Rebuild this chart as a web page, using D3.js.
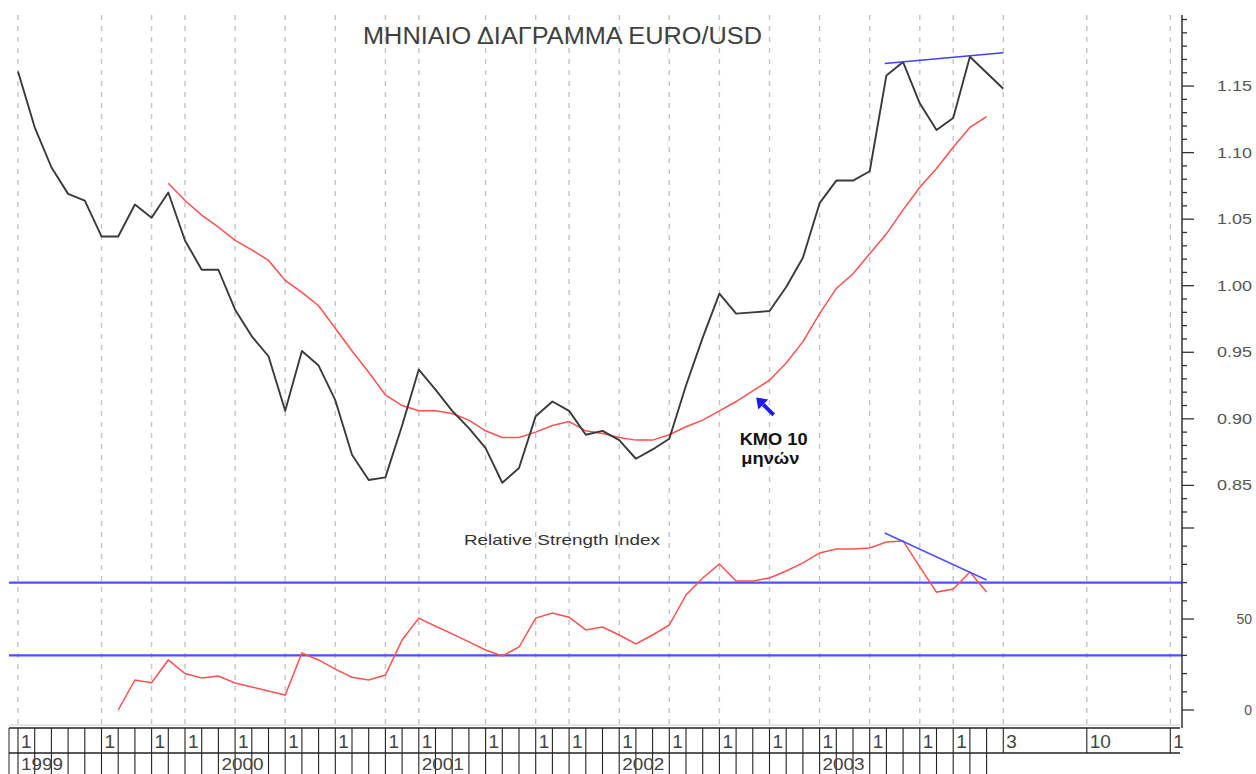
<!DOCTYPE html>
<html><head><meta charset="utf-8">
<script src="https://cdn.jsdelivr.net/npm/d3@7"></script>
<style>body{margin:0;background:#fff}svg{display:block;font-family:"Liberation Sans",Arial,sans-serif}</style>
</head><body><svg id="c" width="1256" height="774"></svg>
<script>
// ---- data (month index 0 = Jan 1999) ----
const priceStart = 0;
const price = [1.161,1.119,1.089,1.069,1.064,1.037,1.037,1.061,1.051,1.070,
  1.034,1.012,1.012,0.982,0.962,0.947,0.906,0.951,0.940,0.914,
  0.873,0.854,0.856,0.895,0.937,0.922,0.906,0.893,0.878,0.852,
  0.863,0.902,0.913,0.906,0.888,0.891,0.884,0.870,0.877,0.885,
  0.925,0.961,0.994,0.979,0.980,0.981,0.999,1.021,1.062,1.079,
  1.079,1.086,1.158,1.168,1.137,1.117,1.126,1.172,1.160,1.148];
const maStart = 9;
const ma10 = [1.077,1.064,1.053,1.044,1.034,1.027,1.019,1.004,0.995,0.985,
  0.968,0.951,0.935,0.918,0.910,0.906,0.906,0.904,0.899,0.891,
  0.886,0.886,0.890,0.895,0.898,0.891,0.889,0.886,0.884,0.884,
  0.888,0.894,0.899,0.906,0.913,0.921,0.929,0.942,0.958,0.979,
  0.998,1.009,1.024,1.039,1.057,1.074,1.088,1.104,1.119,1.127];
const rsiStart = 6;
const rsi = [0,16.5,15,27.5,20,17.6,18.7,14.8,12.6,10.4,
  8.2,31.3,27.5,22.5,18,16.5,19.2,38.5,50.5,46,
  41.8,37.4,33,29.7,34.6,50.5,53.3,51,44,45.6,
  41.2,36.3,41.2,46.7,63.2,72.5,80.2,70.9,70.9,72.5,
  76.4,80.8,86.3,88.5,88.5,89,92.3,92.9,78.6,64.8,
  66.5,75.8,64.8];
const gridMonths = [0,5,8,10,13,16,19,22,24,28,31,33,36,39,42,45,48,51,54,56,59,64,69];
const gridLabels = ["1","1","1","1","1","1","1","1","1","1","1","1","1","1","1","1","1","1","1","1","3","10","1"];
const yearMonths = [0,12,24,36,48];
const yearLabels = ["1999","2000","2001","2002","2003"];
const priceMajor = [0.85,0.90,0.95,1.00,1.05,1.10,1.15];
const priceMinor = [0.83,0.84,0.86,0.87,0.88,0.89,0.91,0.92,0.93,0.94,0.96,0.97,0.98,0.99,1.01,1.02,1.03,1.04,1.06,1.07,1.08,1.09,1.11,1.12,1.13,1.14,1.16,1.17,1.18,1.19,1.20];
const rsiMajor = [0,50,100];
const rsiLabeled = [0,50];
const rsiMinor = [10,20,30,40,60,70,80,90];
const rsiBands = [30,70];
const priceTrend = [[51.9,1.167],[59.0,1.175]];
const rsiTrend = [[51.9,97.3],[58.0,71.4]];
const title = "ΜΗΝΙΑΙΟ ΔΙΑΓΡΑΜΜΑ EURO/USD";
const rsiTitle = "Relative Strength Index";
const note = ["ΚΜΟ 10","μηνών"];

// ---- scales ----
const svg = d3.select("#c");
const x = d3.scaleLinear().domain([0,69]).range([18,1170.3]);
const yP = d3.scaleLinear().domain([0.83,1.20]).range([512,19.5]);
const yR = d3.scaleLinear().domain([0,100]).range([710,528]);
const axisX = 1182, plotTop = 15, plotBottom = 726, leftX = 9;

svg.append("rect").attr("width",1256).attr("height",774).attr("fill","#fff");

// dashed vertical grid
svg.append("g").selectAll("line").data(gridMonths).join("line")
  .attr("x1",d=>x(d)).attr("x2",d=>x(d)).attr("y1",plotTop).attr("y2",plotBottom)
  .attr("stroke","#c4c4c4").attr("stroke-width",1.4).attr("stroke-dasharray","5,6");

// RSI bands
svg.append("g").selectAll("line").data(rsiBands).join("line")
  .attr("x1",leftX).attr("x2",axisX).attr("y1",d=>yR(d)).attr("y2",d=>yR(d))
  .attr("stroke","#4f4fff").attr("stroke-width",2.2);

// lines
const lineP = d3.line().x(d=>x(d[0])).y(d=>yP(d[1]));
const lineR = d3.line().x(d=>x(d[0])).y(d=>yR(d[1]));
svg.append("path").attr("d",lineP(ma10.map((v,i)=>[i+maStart,v])))
  .attr("fill","none").attr("stroke","#ff5050").attr("stroke-width",1.5);
svg.append("path").attr("d",lineP(price.map((v,i)=>[i+priceStart,v])))
  .attr("fill","none").attr("stroke","#3a3a3a").attr("stroke-width",1.9).attr("stroke-linejoin","round");
svg.append("path").attr("d",lineR(rsi.map((v,i)=>[i+rsiStart,v])))
  .attr("fill","none").attr("stroke","#ff5050").attr("stroke-width",1.5);
svg.append("path").attr("d",lineP(priceTrend)).attr("fill","none").attr("stroke","#4040ff").attr("stroke-width",1.6);
svg.append("path").attr("d",lineR(rsiTrend)).attr("fill","none").attr("stroke","#5050ff").attr("stroke-width",1.6);

// right axis
const ax = svg.append("g").attr("transform",`translate(${axisX},0)`);
ax.append("line").attr("y1",plotTop).attr("y2",728).attr("stroke","#333").attr("stroke-width",1.5);
const tick = (vals,scale,len) => ax.append("g").selectAll("line").data(vals).join("line")
  .attr("x1",0).attr("x2",len).attr("y1",d=>scale(d)).attr("y2",d=>scale(d))
  .attr("stroke","#333").attr("stroke-width",1.3);
tick(priceMinor,yP,5); tick(priceMajor,yP,12);
tick(rsiMinor,yR,5); tick(rsiMajor,yR,12);
ax.append("g").selectAll("text").data(priceMajor).join("text")
  .attr("x",70).attr("y",d=>yP(d)+5).attr("text-anchor","end")
  .attr("font-size",14).attr("fill","#555").attr("textLength",35).attr("lengthAdjust","spacingAndGlyphs")
  .text(d=>d3.format(".2f")(d));
ax.append("g").selectAll("text").data(rsiLabeled).join("text")
  .attr("x",70).attr("y",d=>yR(d)+5).attr("text-anchor","end")
  .attr("font-size",14).attr("fill","#555").text(d=>d);

// bottom date axis
const bx = svg.append("g");
bx.append("line").attr("x1",leftX).attr("x2",1180).attr("y1",plotBottom-1).attr("y2",plotBottom-1).attr("stroke","#ddd").attr("stroke-width",1.5);
[728,753].forEach(yy=>bx.append("line").attr("x1",leftX).attr("x2",1180).attr("y1",yy).attr("y2",yy).attr("stroke","#222").attr("stroke-width",1.3));
bx.append("line").attr("x1",leftX).attr("x2",leftX).attr("y1",728).attr("y2",774).attr("stroke","#222");
const row1 = d3.range(0,60).concat([64,69]);
const row2 = d3.range(0,59);
bx.append("g").selectAll("line").data(row1).join("line")
  .attr("x1",d=>x(d)).attr("x2",d=>x(d)).attr("y1",728).attr("y2",753).attr("stroke","#222").attr("stroke-width",1.1);
bx.append("g").selectAll("line").data(row2).join("line")
  .attr("x1",d=>x(d)).attr("x2",d=>x(d)).attr("y1",753).attr("y2",774).attr("stroke","#222").attr("stroke-width",1.1);
bx.append("g").selectAll("text").data(gridMonths).join("text")
  .attr("x",d=>x(d)+3).attr("y",748).attr("font-size",19).attr("fill","#444")
  .text((d,i)=>gridLabels[i]);
bx.append("g").selectAll("text").data(yearMonths).join("text")
  .attr("x",d=>x(d)+3).attr("y",770).attr("font-size",17).attr("fill","#444")
  .attr("textLength",42).attr("lengthAdjust","spacingAndGlyphs")
  .text((d,i)=>yearLabels[i]);

// titles
svg.append("text").attr("x",363).attr("y",44).attr("font-size",23).attr("fill","#404040")
  .attr("textLength",399).attr("lengthAdjust","spacingAndGlyphs").text(title);
svg.append("text").attr("x",464).attr("y",545).attr("font-size",15).attr("fill","#333")
  .attr("textLength",196).attr("lengthAdjust","spacingAndGlyphs").text(rsiTitle);

// annotation arrow + note
const hx = x(44.2), hy = yP(0.916), tx = x(45.25), ty = yP(0.903);
const ang = Math.atan2(hy-ty, hx-tx);
const hl = 10, hw = 7;
const bxp = hx - hl*Math.cos(ang), byp = hy - hl*Math.sin(ang);
svg.append("line").attr("x1",tx).attr("y1",ty).attr("x2",bxp).attr("y2",byp).attr("stroke","#1a1aff").attr("stroke-width",4);
svg.append("path").attr("d",`M${hx},${hy}L${bxp+hw*Math.sin(ang)},${byp-hw*Math.cos(ang)}L${bxp-hw*Math.sin(ang)},${byp+hw*Math.cos(ang)}Z`).attr("fill","#1a1aff");
svg.append("text").attr("x",x(45.25)).attr("y",yP(0.880)).attr("text-anchor","middle")
  .attr("font-size",17).attr("font-weight","bold").attr("fill","#111")
  .attr("textLength",68).attr("lengthAdjust","spacingAndGlyphs").text(note[0]);
svg.append("text").attr("x",x(45.05)).attr("y",yP(0.866)).attr("text-anchor","middle")
  .attr("font-size",17).attr("font-weight","bold").attr("fill","#111")
  .attr("textLength",58).attr("lengthAdjust","spacingAndGlyphs").text(note[1]);
</script></body></html>
